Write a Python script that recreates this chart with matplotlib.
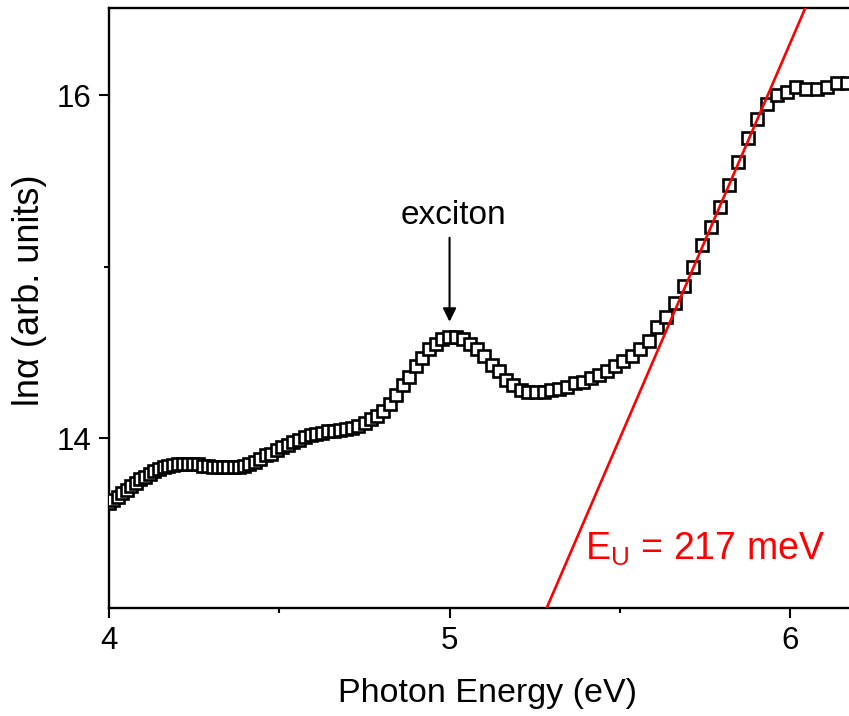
import numpy as np
import matplotlib
matplotlib.use("Agg")
import matplotlib.pyplot as plt

plt.rcParams['font.family'] = ['Liberation Sans', 'DejaVu Sans']

# Data: absorption spectrum sampled on a 1-nm wavelength grid (310 nm -> 200 nm)
wavelength_nm = list(range(310, 199, -1))
ln_alpha = [
    13.62, 13.64, 13.66, 13.68, 13.70, 13.72, 13.74, 13.76, 13.775, 13.79,   # 310-301
    13.81, 13.82, 13.83, 13.84, 13.845, 13.85, 13.85, 13.85, 13.85, 13.85,   # 300-291
    13.84, 13.84, 13.835, 13.83, 13.83, 13.83, 13.83, 13.83, 13.84, 13.85,   # 290-281
    13.86, 13.88, 13.90, 13.91, 13.93, 13.95, 13.96, 13.98, 13.99, 14.01,    # 280-271
    14.02, 14.025, 14.03, 14.04, 14.045, 14.05, 14.055, 14.06, 14.07, 14.09, # 270-261
    14.11, 14.13, 14.16, 14.20, 14.25, 14.31, 14.36, 14.42, 14.47, 14.52,    # 260-251
    14.55, 14.58, 14.59, 14.59, 14.58, 14.55, 14.52, 14.48, 14.43, 14.39,    # 250-241
    14.34, 14.31, 14.28, 14.27, 14.27, 14.27, 14.28, 14.29, 14.30, 14.32,    # 240-231
    14.33, 14.35, 14.37, 14.39, 14.42, 14.45, 14.48, 14.52, 14.57, 14.65,    # 230-221
    14.71, 14.79, 14.89, 15.00, 15.13, 15.23, 15.35, 15.48, 15.61, 15.75,    # 220-211
    15.86, 15.95, 16.00, 16.02, 16.05, 16.04, 16.04, 16.05, 16.07, 16.07,    # 210-201
    16.08,                                                                    # 200
]
photon_energy = [1239.84 / w for w in wavelength_nm]

# Urbach fit line
urbach_energy_eV = 0.217
fit_E0 = 5.283      # energy where the fit reaches ln(alpha) = 13
fit_y0 = 13.0
fit_E = [5.2, 6.2]
fit_y = [fit_y0 + (e - fit_E0) / urbach_energy_eV for e in fit_E]

xticks = [4, 5, 6]
yticks = [14, 16]

fig = plt.figure(figsize=(8.49, 7.16), dpi=100)
ax = fig.add_axes([0.1284, 0.1508, 0.8916, 0.8380])

ax.plot(photon_energy, ln_alpha, linestyle='none', marker='s', markersize=8.0,
        markerfacecolor='white', markeredgecolor='black', markeredgewidth=1.9, zorder=3)
ax.plot(fit_E, fit_y, color='#ff0000', linewidth=1.9, zorder=4)

ax.set_xlim(4, 6.173 + 0.02 * 2.173 / 0.8716)
ax.set_ylim(13.01, 16.51)

ax.set_xticks(xticks)
ax.set_xticks([4.5, 5.5], minor=True)
ax.set_yticks(yticks)
ax.set_yticks([15], minor=True)
ax.set_xticklabels([str(t) for t in xticks])
ax.set_yticklabels([str(t) for t in yticks])

for s in ['left', 'bottom', 'top']:
    ax.spines[s].set_linewidth(1.7)
ax.spines['right'].set_visible(False)
ax.tick_params(which='major', direction='out', length=7, width=1.5, labelsize=22.5, pad=6)
ax.tick_params(which='minor', direction='out', length=3.5, width=1.5)
ax.tick_params(top=False, right=False)

ax.set_xlabel('Photon Energy (eV)', fontsize=24.5, labelpad=16)
ax.set_ylabel('lnα (arb. units)', fontsize=26)
ax.yaxis.set_label_coords(-0.082, 0.53)

ax.text(5.01, 15.30, 'exciton', ha='center', va='center', fontsize=24)
ax.annotate('', xy=(5.0, 14.68), xytext=(5.0, 15.17),
            arrowprops=dict(arrowstyle='-|>', color='black', lw=1.5,
                            mutation_scale=20, shrinkA=0, shrinkB=0))

ax.text(5.75, 13.35, r'E$_\mathregular{U}$ = 217 meV', color='#ff0000',
        fontsize=27, ha='center', va='center')

fig.savefig('out.png', dpi=100)
